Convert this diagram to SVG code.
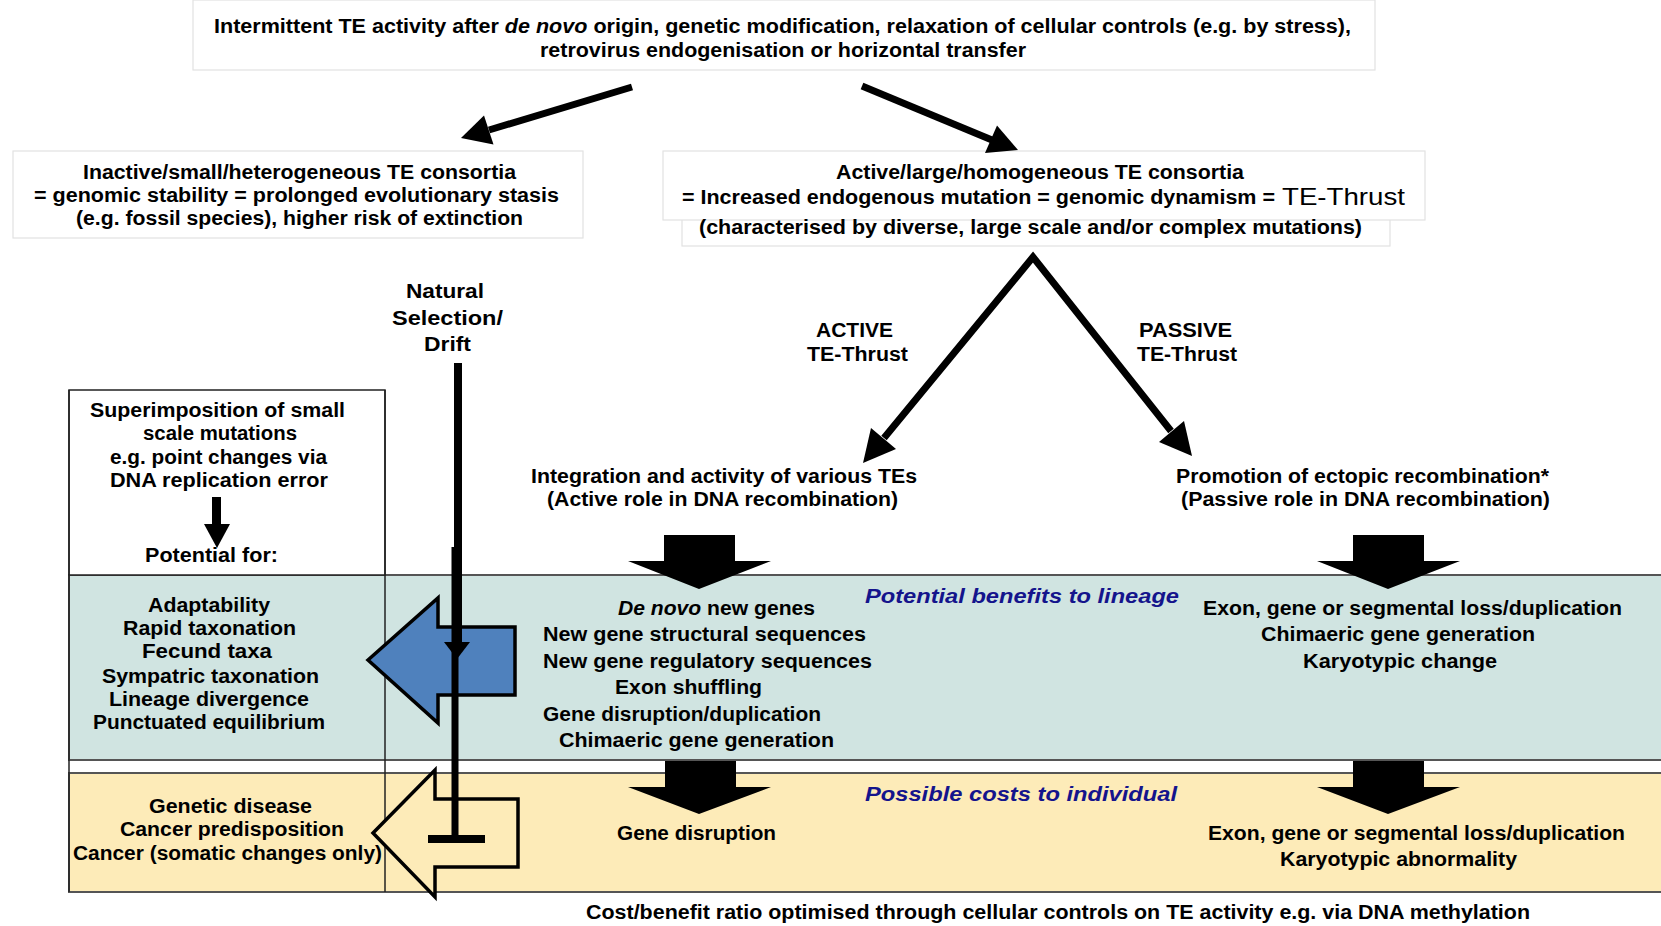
<svg xmlns="http://www.w3.org/2000/svg" width="1661" height="926" viewBox="0 0 1661 926">
<style>
text{font-family:"Liberation Sans",Arial,sans-serif;font-weight:bold;font-size:20px;fill:#000}
.it{font-style:italic}
.nv{fill:#14148c;font-style:italic;font-size:20px}
.box{fill:#fff;stroke:#e2e2e2;stroke-width:1.2}
.band{stroke:#555;stroke-width:2}
.ln{stroke:#222;stroke-width:1.5;fill:none}
.ar{stroke:#000;stroke-width:7;fill:none;stroke-linecap:butt}
</style>
<rect width="1661" height="926" fill="#fff"/>

<!-- bands -->
<g id="bands">
<rect class="band" x="69" y="575" width="1600" height="185" fill="#d0e4e1"/>
<rect class="band" x="69" y="773" width="1600" height="119" fill="#fdebb8"/>
<rect x="69" y="390" width="316" height="185" fill="#fff" stroke="#222" stroke-width="1.5"/>
<line class="ln" x1="69" y1="390" x2="69" y2="892"/>
<line class="ln" x1="385" y1="390" x2="385" y2="892"/>
</g>

<g id="top">
<rect class="box" x="193" y="0" width="1182" height="70"/>
<text x="214" y="33" textLength="1137" lengthAdjust="spacingAndGlyphs">Intermittent TE activity after <tspan class="it">de novo</tspan> origin, genetic modification, relaxation of cellular controls (e.g. by stress),</text>
<text x="540" y="57" textLength="486" lengthAdjust="spacingAndGlyphs">retrovirus endogenisation or horizontal transfer</text>
</g>

<g id="inactive">
<rect class="box" x="13" y="151" width="570" height="87"/>
<text x="83" y="179" textLength="433" lengthAdjust="spacingAndGlyphs">Inactive/small/heterogeneous TE consortia</text>
<text x="34" y="202" textLength="525" lengthAdjust="spacingAndGlyphs">= genomic stability = prolonged evolutionary stasis</text>
<text x="76" y="225" textLength="447" lengthAdjust="spacingAndGlyphs">(e.g. fossil species), higher risk of extinction</text>
</g>

<g id="active">
<rect class="box" x="682" y="215" width="708" height="31"/>
<rect class="box" x="663" y="151" width="762" height="69"/>
<text x="836" y="179" textLength="408" lengthAdjust="spacingAndGlyphs">Active/large/homogeneous TE consortia</text>
<text x="682" y="204" textLength="593" lengthAdjust="spacingAndGlyphs">= Increased endogenous mutation = genomic dynamism =</text>
<text x="1282" y="205" textLength="123" lengthAdjust="spacingAndGlyphs" style="font-size:24px;font-weight:normal">TE-Thrust</text>
<text x="699" y="234" textLength="663" lengthAdjust="spacingAndGlyphs">(characterised by diverse, large scale and/or complex mutations)</text>
</g>

<g id="selection">
<text x="406" y="298" textLength="78" lengthAdjust="spacingAndGlyphs" style="font-size:21px">Natural</text>
<text x="392" y="325" textLength="111" lengthAdjust="spacingAndGlyphs" style="font-size:21px">Selection/</text>
<text x="424" y="351" textLength="47" lengthAdjust="spacingAndGlyphs" style="font-size:21px">Drift</text>
</g>

<g id="small-scale">
<text x="90" y="417" textLength="255" lengthAdjust="spacingAndGlyphs">Superimposition of small</text>
<text x="143" y="440" textLength="154" lengthAdjust="spacingAndGlyphs">scale mutations</text>
<text x="110" y="464" textLength="217" lengthAdjust="spacingAndGlyphs">e.g. point changes via</text>
<text x="110" y="487" textLength="218" lengthAdjust="spacingAndGlyphs">DNA replication error</text>
<text x="145" y="562" textLength="133" lengthAdjust="spacingAndGlyphs">Potential for:</text>
</g>

<g id="active-label">
<text x="816" y="337" textLength="77" lengthAdjust="spacingAndGlyphs">ACTIVE</text>
<text x="807" y="361" textLength="101" lengthAdjust="spacingAndGlyphs">TE-Thrust</text>
</g>
<g id="passive-label">
<text x="1139" y="337" textLength="93" lengthAdjust="spacingAndGlyphs">PASSIVE</text>
<text x="1137" y="361" textLength="100" lengthAdjust="spacingAndGlyphs">TE-Thrust</text>
</g>

<g id="integration">
<text x="531" y="483" textLength="386" lengthAdjust="spacingAndGlyphs">Integration and activity of various TEs</text>
<text x="547" y="506" textLength="351" lengthAdjust="spacingAndGlyphs">(Active role in DNA recombination)</text>
</g>
<g id="promotion">
<text x="1176" y="483" textLength="373" lengthAdjust="spacingAndGlyphs">Promotion of ectopic recombination*</text>
<text x="1181" y="506" textLength="369" lengthAdjust="spacingAndGlyphs">(Passive role in DNA recombination)</text>
</g>

<g id="benefits-left">
<text x="148" y="612" textLength="122" lengthAdjust="spacingAndGlyphs">Adaptability</text>
<text x="123" y="635" textLength="173" lengthAdjust="spacingAndGlyphs">Rapid taxonation</text>
<text x="142" y="658" textLength="130" lengthAdjust="spacingAndGlyphs">Fecund taxa</text>
<text x="102" y="683" textLength="217" lengthAdjust="spacingAndGlyphs">Sympatric taxonation</text>
<text x="109" y="706" textLength="200" lengthAdjust="spacingAndGlyphs">Lineage divergence</text>
<text x="93" y="729" textLength="232" lengthAdjust="spacingAndGlyphs">Punctuated equilibrium</text>
</g>

<g id="benefits-active">
<text x="618" y="615" textLength="197" lengthAdjust="spacingAndGlyphs"><tspan class="it">De novo</tspan> new genes</text>
<text x="543" y="641" textLength="323" lengthAdjust="spacingAndGlyphs">New gene structural sequences</text>
<text x="543" y="668" textLength="329" lengthAdjust="spacingAndGlyphs">New gene regulatory sequences</text>
<text x="615" y="694" textLength="147" lengthAdjust="spacingAndGlyphs">Exon shuffling</text>
<text x="543" y="721" textLength="278" lengthAdjust="spacingAndGlyphs">Gene disruption/duplication</text>
<text x="559" y="747" textLength="275" lengthAdjust="spacingAndGlyphs">Chimaeric gene generation</text>
</g>

<g id="benefits-title">
<text class="nv" x="865" y="603" textLength="314" lengthAdjust="spacingAndGlyphs">Potential benefits to lineage</text>
</g>

<g id="benefits-passive">
<text x="1203" y="615" textLength="419" lengthAdjust="spacingAndGlyphs">Exon, gene or segmental loss/duplication</text>
<text x="1261" y="641" textLength="274" lengthAdjust="spacingAndGlyphs">Chimaeric gene generation</text>
<text x="1303" y="668" textLength="194" lengthAdjust="spacingAndGlyphs">Karyotypic change</text>
</g>

<g id="costs-left">
<text x="149" y="813" textLength="163" lengthAdjust="spacingAndGlyphs">Genetic disease</text>
<text x="120" y="836" textLength="224" lengthAdjust="spacingAndGlyphs">Cancer predisposition</text>
<text x="73" y="860" textLength="309" lengthAdjust="spacingAndGlyphs">Cancer (somatic changes only)</text>
</g>

<g id="costs-title">
<text class="nv" x="865" y="801" textLength="312" lengthAdjust="spacingAndGlyphs">Possible costs to individual</text>
</g>
<g id="costs-active">
<text x="617" y="840" textLength="159" lengthAdjust="spacingAndGlyphs">Gene disruption</text>
</g>
<g id="costs-passive">
<text x="1208" y="840" textLength="417" lengthAdjust="spacingAndGlyphs">Exon, gene or segmental loss/duplication</text>
<text x="1280" y="866" textLength="237" lengthAdjust="spacingAndGlyphs">Karyotypic abnormality</text>
</g>

<g id="footer">
<text x="586" y="919" textLength="944" lengthAdjust="spacingAndGlyphs">Cost/benefit ratio optimised through cellular controls on TE activity e.g. via DNA methylation</text>
</g>

<g id="connectors">
<!-- top arrows -->
<line class="ar" x1="632" y1="87" x2="489" y2="130"/>
<polygon points="461,138 484,115.5 493.5,144.5"/>
<line class="ar" x1="862" y1="86" x2="992" y2="140"/>
<polygon points="1018,150 985,153 997,125.5"/>
<!-- V arrows -->
<polyline class="ar" points="884,438 1033,257 1171,431" stroke-linejoin="miter" stroke-miterlimit="10"/>
<polygon points="863,463 871,428 896,449"/>
<polygon points="1192,456 1159,442 1184,421"/>
<!-- small arrow in left box -->
<rect x="212" y="497" width="9" height="28"/>
<polygon points="204,524 230,524 217,548"/>
<!-- block arrows down -->
<polygon points="664,535 735,535 735,561 771,561 699,589 628,561 664,561"/>
<polygon points="1353,535 1424,535 1424,561 1460,561 1388,589 1317,561 1353,561"/>
<polygon points="665,761 736,761 736,787 771,787 699,814 628,787 665,787"/>
<polygon points="1353,761 1424,761 1424,787 1460,787 1388,814 1317,787 1353,787"/>
<!-- blue block arrow left -->
<polygon points="368,660 438,598 438,627 515,627 515,695 438,695 438,723" fill="#4f81bd" stroke="#000" stroke-width="3.5" stroke-linejoin="miter"/>
<!-- outline block arrow left (costs) -->
<polygon points="373,833 435,770 435,799 518,799 518,867 435,867 435,897" fill="#fdebb8" stroke="#000" stroke-width="3.5" stroke-linejoin="miter"/>
<!-- selection line -->
<line x1="458" y1="363" x2="458" y2="646" stroke="#000" stroke-width="8"/>
<polygon points="444,642 470,642 457,659"/>
<line x1="455" y1="547" x2="455" y2="840" stroke="#000" stroke-width="7"/>
<rect x="428" y="835" width="57" height="8"/>
</g>
</svg>
